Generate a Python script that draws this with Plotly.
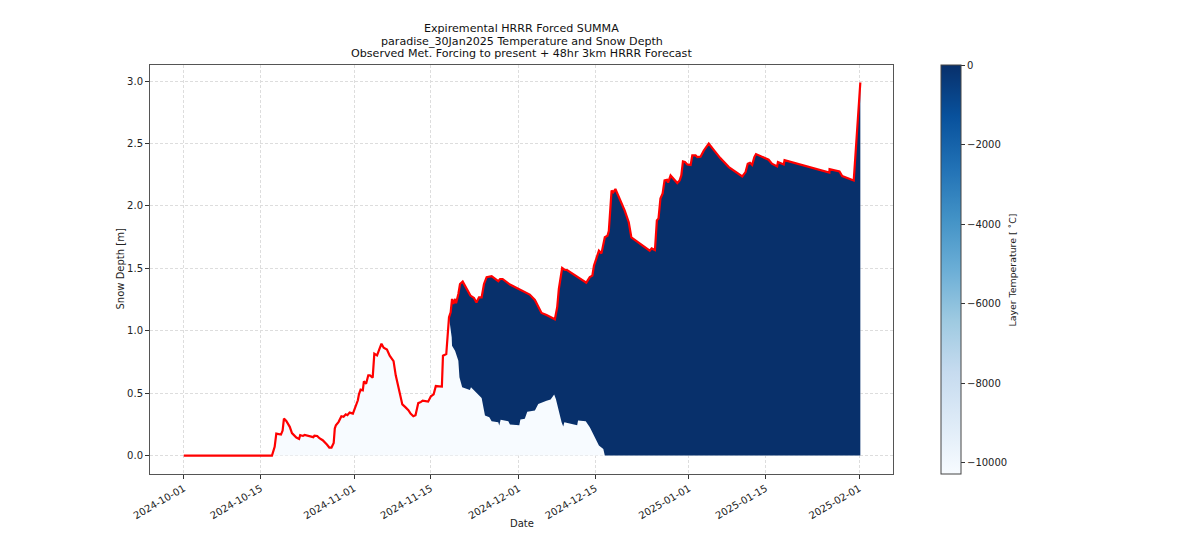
import pandas as pd
import plotly.graph_objects as go

START = pd.Timestamp("2024-10-01")

depth_days = [0, 16.06, 16.55, 16.85, 17.7, 18.0, 18.24, 18.67, 19.3, 19.7, 20.5, 21, 21.2, 21.7, 22, 22.7,
              23.6, 23.8, 24.3, 24.7, 25.3, 26.06, 26.5, 26.9, 27.3, 27.5, 27.7, 28.2, 28.7, 29.1, 29.5,
              29.8, 30.2, 30.8, 31.2, 31.7, 31.9, 32.2, 32.6, 32.8, 33.2, 33.6, 33.9, 34.4, 34.7, 35.2,
              35.6, 36, 36.4, 37, 37.5, 38.2, 38.6, 39.4, 39.8, 40.3, 40.9, 41.3, 41.8, 42.2, 42.7, 43.2,
              43.5, 44.5, 45, 45.5, 45.9, 46.5, 47.0, 47.2, 47.8, 48.3, 48.6, 48.85, 49.09, 49.4, 49.58,
              50, 50.3, 50.79, 51.5, 52.2, 52.85, 53.3, 53.76, 54.24, 54.67, 55.15, 56.06, 56.67, 57.27,
              57.6, 58.06, 59.4, 61.2, 63.0, 63.94, 64.55, 65.15, 66.06, 67.58, 68, 68.3, 68.9, 69.4,
              69.8, 73.3, 73.94, 74.4, 74.7, 75.3, 75.6, 76.06, 76.67, 77.15, 77.4, 77.9, 78.2, 78.6,
              79.4, 80.3, 81.03, 81.5, 84.85, 85.2, 85.8, 86.15, 86.45, 86.8, 87.2, 87.55, 88.0, 88.2,
              88.65, 89.26, 89.87, 90.3, 90.6, 90.9, 91.26, 91.7, 92.3, 92.6, 93.2, 93.5, 94.1, 94.7,
              95.6, 96.5, 97.7, 99.26, 100.8, 101.7, 102.3, 102.7, 103.1, 103.5, 103.9, 104.2, 106.5,
              107.1, 108.05, 108.2, 109.26, 109.4, 117.56, 117.6, 119.4, 119.9, 122, 123.2]
depth_m = [0, 0, 0.07, 0.176, 0.168, 0.2, 0.296, 0.277, 0.23, 0.18, 0.144, 0.133, 0.163, 0.157, 0.165, 0.155,
           0.147, 0.16, 0.157, 0.139, 0.123, 0.088, 0.064, 0.064, 0.1, 0.216, 0.243, 0.27, 0.315, 0.31, 0.33,
           0.323, 0.344, 0.336, 0.39, 0.443, 0.49, 0.528, 0.523, 0.595, 0.576, 0.643, 0.643, 0.624, 0.816, 0.803,
           0.85, 0.896, 0.864, 0.85, 0.8, 0.757, 0.643, 0.496, 0.41, 0.39, 0.363, 0.336, 0.315, 0.323, 0.42, 0.43,
           0.44, 0.432, 0.475, 0.49, 0.557, 0.555, 0.553, 0.8, 0.814, 1.108, 1.148, 1.255, 1.215, 1.255, 1.22,
           1.295, 1.375, 1.394, 1.335, 1.282, 1.263, 1.226, 1.268, 1.268, 1.375, 1.43, 1.437, 1.415, 1.397,
           1.415, 1.415, 1.37, 1.327, 1.29, 1.247, 1.188, 1.143, 1.127, 1.092, 1.188, 1.335, 1.503, 1.487,
           1.487, 1.386, 1.43, 1.442, 1.522, 1.602, 1.642, 1.62, 1.75, 1.762, 1.8, 2.123, 2.11, 2.136,
           2.056, 1.963, 1.87, 1.749, 1.642, 1.66, 1.647, 1.885, 1.9, 2.06, 2.1, 2.205, 2.21, 2.187,
           2.245, 2.21, 2.184, 2.205, 2.245, 2.357, 2.352, 2.333, 2.328, 2.405, 2.405, 2.392, 2.395, 2.445,
           2.5, 2.45, 2.384, 2.312, 2.264, 2.237, 2.272, 2.339, 2.347, 2.33, 2.392, 2.416, 2.371,
           2.339, 2.317, 2.352, 2.333, 2.368, 2.267, 2.296, 2.277, 2.24, 2.205, 2.99]

# Edge between the very cold bottom layers and the warm ones above them
edge_days = [48.3, 48.5, 48.79, 48.85, 49.4, 50, 50.2, 50.7, 52.1, 52.3, 53.3, 54.24, 54.85, 55.64, 56.06,
             57.27, 57.45, 57.7, 59.1, 59.4, 61.1, 61.3, 62.1, 62.55, 63.94, 64.55, 66.06, 66.8, 67.45, 67.76,
             68.8, 69.1, 69.3, 71.64, 71.8, 73.2, 73.94, 74.85, 75.6, 76.4, 76.67, 123.2]
edge_m = [1.108, 1.055, 0.948, 0.88, 0.84, 0.76, 0.627, 0.547, 0.526, 0.547, 0.507, 0.462, 0.32, 0.307, 0.275,
          0.267, 0.24, 0.286, 0.275, 0.248, 0.243, 0.288, 0.294, 0.35, 0.36, 0.414, 0.44, 0.449, 0.489, 0.454,
          0.267, 0.232, 0.267, 0.243, 0.28, 0.275, 0.227, 0.147, 0.08, 0.053, 0, 0]

title_lines = ["Expiremental HRRR Forced SUMMA",
               "paradise_30Jan2025 Temperature and Snow Depth",
               "Observed Met. Forcing to present + 48hr 3km HRRR Forecast"]
x_ticks = ["2024-10-01", "2024-10-15", "2024-11-01", "2024-11-15", "2024-12-01", "2024-12-15",
           "2025-01-01", "2025-01-15", "2025-02-01"]
y_ticks = [0.0, 0.5, 1.0, 1.5, 2.0, 2.5, 3.0]
cbar_ticks = [0, -2000, -4000, -6000, -8000, -10000]
cbar_labels = ["0", "−2000", "−4000", "−6000", "−8000", "−10000"]
blues = ["#f7fbff", "#deebf7", "#c6dbef", "#9ecae1", "#6baed6", "#4292c6", "#2171b5", "#08519c", "#08306b"]

COLD = blues[0]
WARM = blues[-1]


def dates(days):
    return [START + pd.Timedelta(days=d) for d in days]


warm_idx = [i for i, d in enumerate(depth_days) if d >= 48.3]

fig = go.Figure()
fig.add_trace(go.Scatter(x=dates(depth_days), y=depth_m, mode="none", fill="tozeroy", fillcolor=COLD))
fig.add_trace(go.Scatter(x=dates(edge_days), y=edge_m, mode="lines", line=dict(width=0)))
fig.add_trace(go.Scatter(x=dates([depth_days[i] for i in warm_idx]), y=[depth_m[i] for i in warm_idx],
                         mode="none", fill="tonexty", fillcolor=WARM))
fig.add_trace(go.Scatter(x=dates(depth_days), y=depth_m, mode="lines", line=dict(color="#ff0000", width=2.2)))

# Empty trace, only here to get the colorbar
fig.add_trace(go.Scatter(
    x=[None], y=[None], mode="markers",
    marker=dict(
        color=[0], cmin=-10280, cmax=0, showscale=True,
        colorscale=[[i / (len(blues) - 1), c] for i, c in enumerate(blues)],
        colorbar=dict(
            x=1.0646, xanchor="left", y=0, yanchor="bottom", len=1, lenmode="fraction",
            thickness=20, thicknessmode="pixels", xpad=0, ypad=0,
            outlinecolor="#444444", outlinewidth=1,
            ticks="outside", ticklen=4, tickcolor="#333333",
            tickvals=cbar_ticks, ticktext=cbar_labels, tickfont=dict(size=10, color="#222222"),
        ),
    ),
))

# The page itself has a body margin of about 7px, so margins are 7 less than the target positions
fig.update_layout(
    width=1190, height=525, autosize=False,
    margin=dict(l=142, r=305, t=57, b=59),
    paper_bgcolor="white", plot_bgcolor="white",
    showlegend=False,
    font=dict(family="DejaVu Sans", size=10, color="#222222"),
    xaxis=dict(
        range=dates([-6.15, 129.15]), automargin=False,
        tickvals=x_ticks, ticktext=x_ticks, tickangle=-30, tickfont=dict(size=10),
        ticks="outside", ticklen=4, tickcolor="#333333",
        showline=True, mirror=True, linecolor="#555555", linewidth=1,
        showgrid=True, gridcolor="#dddddd", griddash="3px,2px", gridwidth=1, zeroline=False,
    ),
    yaxis=dict(
        range=[-0.148, 3.13], automargin=False,
        tickvals=y_ticks, tickformat=".1f", tickfont=dict(size=10),
        ticks="outside", ticklen=4, tickcolor="#333333",
        showline=True, mirror=True, linecolor="#555555", linewidth=1,
        showgrid=True, gridcolor="#dddddd", griddash="3px,2px", gridwidth=1, zeroline=False,
    ),
)

# Separate annotations, the <br> spacing of a plotly title is wider than the original's
for i, line in enumerate(title_lines):
    fig.add_annotation(text=line, xref="paper", yref="paper", x=0.5, y=1, yanchor="bottom",
                       yshift=2.5 + (2 - i) * 12.5, showarrow=False, font=dict(size=11.1, color="#111111"))

# Axis and colorbar labels placed by hand, plotly puts them too far off without automargin
label_font = dict(size=10, color="#222222")
fig.add_annotation(text="Date", xref="paper", yref="paper", x=0.5, y=0, yanchor="top", yshift=-42,
                   showarrow=False, font=label_font)
fig.add_annotation(text="Snow Depth [m]", xref="paper", yref="paper", x=0, y=0.5, xanchor="center", xshift=-30,
                   textangle=-90, showarrow=False, font=label_font)
fig.add_annotation(text="Layer Temperature [ ˚C]", xref="paper", yref="paper", x=1.1615, y=0.5, xanchor="center",
                   textangle=-90, showarrow=False, font=dict(size=9.4, color="#222222"))

fig.write_html("out.html")
